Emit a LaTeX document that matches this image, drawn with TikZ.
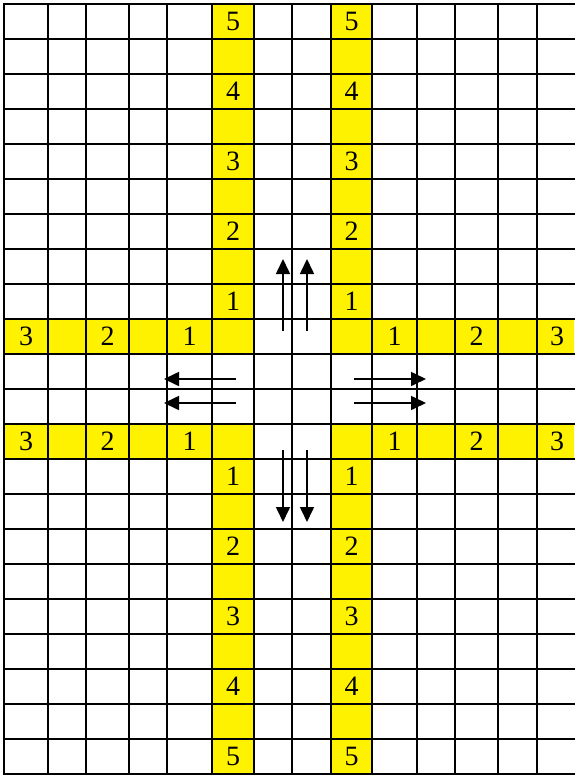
\documentclass[tikz,border=0pt]{standalone}
\usepackage{fontspec}
\setmainfont{Liberation Serif}
\usetikzlibrary{arrows.meta}
\tikzset{
  luoi/.style={line width=2pt, line cap=rect},
  so/.style={font=\fontsize{28}{30}\selectfont, inner sep=0pt},
  muiten/.style={line width=1.6pt, -{Triangle[length=15pt,width=14pt]}}
}
\begin{document}
\begin{tikzpicture}[x=1pt,y=-1pt]
\useasboundingbox (0,0) rectangle (574,776);
\def\tren{4} % mep tren
\def\duoi{774} % mep duoi
\def\phai{574}
% o mau vang
\fill[yellow] 
(212,\tren) rectangle (254,354) 
(331,\tren) rectangle (372,354)
(212,424) rectangle (254,\duoi) 
(331,424) rectangle (372,\duoi)
(4,319) rectangle (254,354) 
(331,319) rectangle (\phai,354)
(4,424) rectangle (254,459) 
(331,424) rectangle (\phai,459);
% luoi
\foreach \x in {4,48,86,129,167,212,254,292,331,372,417,455,498,537}
  \draw[luoi] (\x,\tren)--(\x,\duoi);
\foreach \k in {0,...,22}
  \draw[luoi] (4,\tren+35*\k)--(\phai,\tren+35*\k);
% so tren hai cot doc
\foreach \r/\n in {1/5,3/4,5/3,7/2,9/1,14/1,16/2,18/3,20/4,22/5}{
  \node[so] (T\r) at (233,{21.5+35*(\r-1)}) {\n};
  \node[so] (P\r) at (351.5,{21.5+35*(\r-1)}) {\n};
}
% so tren hai hang ngang
\foreach \c/\x/\n in {a/26/3,b/107.5/2,c/189.5/1,d/394.5/1,e/476.5/2,f/557/3}{
  \node[so] (H\c) at (\x,336.5) {\n};
  \node[so] (K\c) at (\x,441.5) {\n};
}
% mui ten
\foreach \i/\x/\y in {1/283/379,2/307/403}{
  \coordinate (lenA\i) at (\x,331); \coordinate (lenB\i) at (\x,259);
  \coordinate (xuongA\i) at (\x,450); \coordinate (xuongB\i) at (\x,522);
  \coordinate (traiA\i) at (236,\y); \coordinate (traiB\i) at (164,\y);
  \coordinate (phaiA\i) at (354,\y); \coordinate (phaiB\i) at (426,\y);
  \draw[muiten] (lenA\i)--(lenB\i);
  \draw[muiten] (xuongA\i)--(xuongB\i);
  \draw[muiten] (traiA\i)--(traiB\i);
  \draw[muiten] (phaiA\i)--(phaiB\i);
}
\end{tikzpicture}
\end{document}
